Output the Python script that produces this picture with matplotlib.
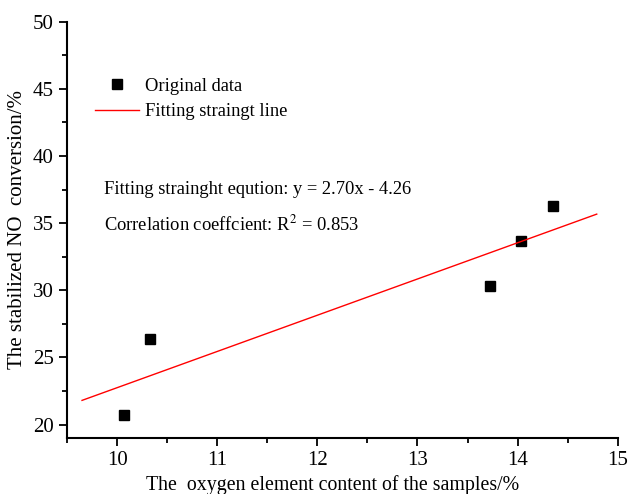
import matplotlib
matplotlib.use("Agg")
import matplotlib.pyplot as plt
from matplotlib.ticker import MultipleLocator

# --- data ---
oxygen = [10.07, 10.33, 13.72, 14.03, 14.35]
no_conv = [20.7, 26.4, 30.3, 33.7, 36.3]

# fitted straight line end points
fit_x = [9.65, 14.79]
fit_y = [21.80, 35.67]

plt.rcParams["font.family"] = ["Liberation Serif", "DejaVu Serif"]
plt.rcParams["mathtext.fontset"] = "stix"

fig = plt.figure(figsize=(6.28, 4.94), dpi=100)
ax = fig.add_axes([0.1067, 0.1134, 0.877, 0.8427])

ax.plot(oxygen, no_conv, "s", color="black", ms=7.5, label="Original data")
ax.plot(fit_x, fit_y, "-", color="red", lw=1.0, label="Fitting straingt line")

ax.set_xlim(9.5, 15)
ax.set_ylim(19, 50)
ax.xaxis.set_major_locator(MultipleLocator(1))
ax.xaxis.set_minor_locator(MultipleLocator(0.5))
ax.yaxis.set_major_locator(MultipleLocator(5))
ax.yaxis.set_minor_locator(MultipleLocator(2.5))

for s in ["top", "right"]:
    ax.spines[s].set_visible(False)
for s in ["left", "bottom"]:
    ax.spines[s].set_linewidth(1.5)

ax.tick_params(which="major", direction="out", length=6, width=1.3, labelsize=15)
ax.tick_params(which="minor", direction="out", length=3.5, width=1.3)

ax.set_xlabel("The  oxygen element content of the samples/%", fontsize=14.3)
ax.set_ylabel("The stabilized NO  conversion/%", fontsize=15)
ax.xaxis.set_label_coords(0.483, -0.09)
ax.yaxis.set_label_coords(-0.073, 0.5)

ax.legend(loc="upper left", bbox_to_anchor=(0.02, 0.905), frameon=False,
          fontsize=13.3, handlelength=2.4, handletextpad=0.32, labelspacing=0.45)

ax.text(0.067, 0.597, "Fitting strainght eqution: y = 2.70x - 4.26",
        transform=ax.transAxes, fontsize=13.3, va="center")
ax.text(0.067, 0.512, "Correlation coeffcient: R$^2$ = 0.853",
        transform=ax.transAxes, fontsize=13.3, va="center")

fig.savefig("out.png", dpi=100)
